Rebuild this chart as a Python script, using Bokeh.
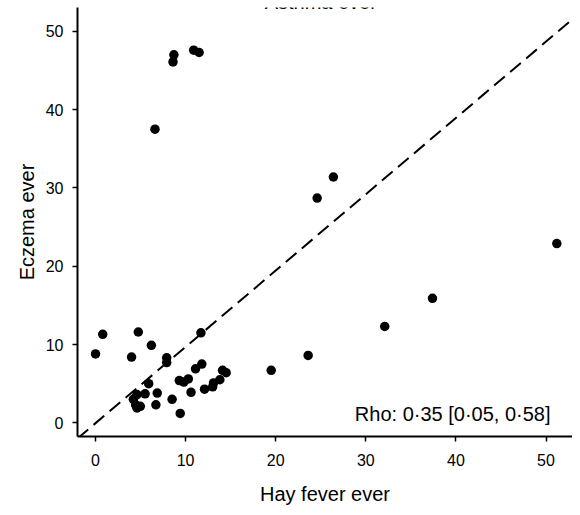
import math
from bokeh.plotting import figure
from bokeh.models import Range1d, Label, FixedTicker
from bokeh.embed import file_html
from bokeh.resources import INLINE

# Hay fever ever (x) vs Eczema ever (y), prevalence (%) per centre
hay_fever = [8.7, 8.6, 10.9, 11.5, 6.6,
             26.4, 24.6, 51.2, 37.4, 32.1, 23.6, 19.5,
             0.0, 0.8, 4.75, 4.0, 6.2, 7.9, 7.9, 11.7, 11.8, 11.1,
             14.1, 14.5, 13.8, 13.1, 13.0, 12.1, 10.3, 9.3, 9.8, 10.6,
             8.5, 9.4, 6.85, 6.7, 5.9, 5.5, 4.6, 4.2, 4.45, 4.97, 4.6]
eczema = [47.0, 46.1, 47.6, 47.3, 37.5,
          31.4, 28.7, 22.9, 15.9, 12.3, 8.6, 6.7,
          8.8, 11.3, 11.6, 8.4, 9.9, 8.3, 7.7, 11.5, 7.5, 6.9,
          6.7, 6.4, 5.5, 5.1, 4.6, 4.3, 5.6, 5.4, 5.2, 3.9,
          3.0, 1.2, 3.8, 2.3, 5.0, 3.7, 3.6, 3.0, 2.3, 2.1, 1.9]

x_ticks = [0, 10, 20, 30, 40, 50]
y_ticks = [0, 10, 20, 30, 40, 50]

# reference (equality) line end points
ref_x = [-2.0, 53.7]
ref_y = [-2.0, 52.3]

title_text = "Asthma ever"
x_label = "Hay fever ever"
y_label = "Eczema ever"
rho_text = "Rho: 0\u00b735 [0\u00b705, 0\u00b758]"

FONT = "Liberation Sans"
X0, X1 = -2.0, 52.94
Y0, Y1 = -1.75, 53.05

p = figure(width=572, height=507, output_backend="svg", toolbar_location=None,
           x_range=Range1d(X0, X1), y_range=Range1d(Y0, Y1),
           min_border_left=77, min_border_right=0, min_border_top=7,
           min_border_bottom=70)
p.outline_line_color = None
p.grid.visible = False
p.background_fill_color = "white"

for ax, ticks in ((p.xaxis[0], x_ticks), (p.yaxis[0], y_ticks)):
    ax.ticker = FixedTicker(ticks=ticks)
    ax.axis_line_width = 2
    ax.axis_line_color = "black"
    ax.major_tick_line_color = "black"
    ax.major_tick_line_width = 1.5
    ax.major_tick_in = 0
    ax.major_tick_out = 5
    ax.minor_tick_line_color = None
    ax.major_label_text_font = FONT
    ax.major_label_text_font_size = "16px"
    ax.major_label_text_color = "black"
    ax.axis_label_text_font = FONT
    ax.axis_label_text_font_size = "20px"
    ax.axis_label_text_font_style = "normal"
    ax.axis_label_text_color = "black"

p.xaxis[0].axis_label = x_label
p.yaxis[0].axis_label = y_label
p.xaxis[0].major_label_standoff = 12
p.yaxis[0].major_label_standoff = 9
p.xaxis[0].axis_label_standoff = 14
p.yaxis[0].axis_label_standoff = 5

p.line(ref_x, ref_y, line_color="black", line_width=2, line_dash="14 7")
p.scatter(hay_fever, eczema, size=9.5, fill_color="black", line_color=None)

p.add_layout(Label(x=50.5, y=1.13, text=rho_text, text_align="right",
                   text_baseline="alphabetic", text_font=FONT,
                   text_font_size="20px", text_color="black"))
p.add_layout(Label(x=25.0, y=53.7, text=title_text,
                   text_align="center", text_baseline="alphabetic",
                   text_font=FONT, text_font_size="20px", text_color="black"))

open("out.html", "w").write(file_html(p, INLINE))
